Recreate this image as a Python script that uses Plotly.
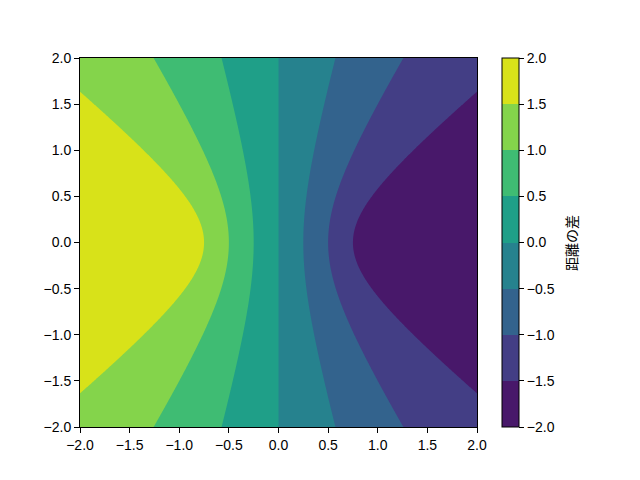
import numpy as np
import plotly.graph_objects as go

# grid and the two reference points (foci)
x_vals = np.linspace(-2, 2, 401)
y_vals = np.linspace(-2, 2, 401)
focus_a = (1.0, 0.0)
focus_b = (-1.0, 0.0)
levels = [-2.0, -1.5, -1.0, -0.5, 0.0, 0.5, 1.0, 1.5, 2.0]
band_colors = ["#48186a", "#433e85", "#33638d", "#26828e",
               "#1f9f88", "#3fbc73", "#84d44b", "#d8e219"]
tick_vals = [-2.0, -1.5, -1.0, -0.5, 0.0, 0.5, 1.0, 1.5, 2.0]
cbar_title = "距離の差"

X, Y = np.meshgrid(x_vals, y_vals)
Z = np.hypot(X - focus_a[0], Y - focus_a[1]) - np.hypot(X - focus_b[0], Y - focus_b[1])

zmin, zmax = levels[0], levels[-1]
n = len(band_colors)
cs = []
for i, c in enumerate(band_colors):
    cs.append([i / n, c])
    cs.append([(i + 1) / n, c])

FONT = "Liberation Sans"
CJK = "Noto Sans CJK JP"
L, R, T, B = 80, 477, 58, 427
W = R - L
H = B - T
fig = go.Figure(go.Contour(
    x=x_vals, y=y_vals, z=Z,
    colorscale=cs, zmin=zmin, zmax=zmax, zauto=False,
    autocontour=False,
    contours=dict(start=levels[0], end=levels[-1], size=levels[1] - levels[0], coloring="fill", showlines=False),
    line=dict(width=0),
    colorbar=dict(x=(502 - L) / W, xanchor="left", xref="paper", y=0.5, yanchor="middle",
                  len=1, lenmode="fraction", thickness=17, xpad=0, ypad=0,
                  outlinewidth=1, outlinecolor="black",
                  ticks="outside", ticklen=5, tickcolor="black", tickvals=tick_vals,
                  tickformat=".1f", tickfont=dict(family=FONT, size=14, color="black")),
))
fig.update_layout(
    width=640, height=480, paper_bgcolor="white", plot_bgcolor="white",
    margin=dict(l=L, r=640 - R, t=T, b=480 - B, autoexpand=False),
    font=dict(family=FONT, size=14, color="black"),
    showlegend=False,
    annotations=[dict(text=cbar_title, textangle=-90, x=(571 - L) / W, y=(B - 243) / H,
                      xref="paper", yref="paper", xanchor="center", yanchor="middle",
                      showarrow=False,
                      font=dict(family=CJK, size=14, color="black"))],
)
axis = dict(range=[-2, 2], tickvals=tick_vals, tickformat=".1f", ticks="outside", ticklen=5,
            tickcolor="black", showline=True, linecolor="black", linewidth=1, mirror=True,
            showgrid=False, zeroline=False, tickfont=dict(family=FONT, size=14, color="black"))
fig.update_xaxes(**axis)
fig.update_yaxes(**axis)
fig.write_html("out.html", config={"displayModeBar": False},
               post_script="document.body.style.margin='0';")
